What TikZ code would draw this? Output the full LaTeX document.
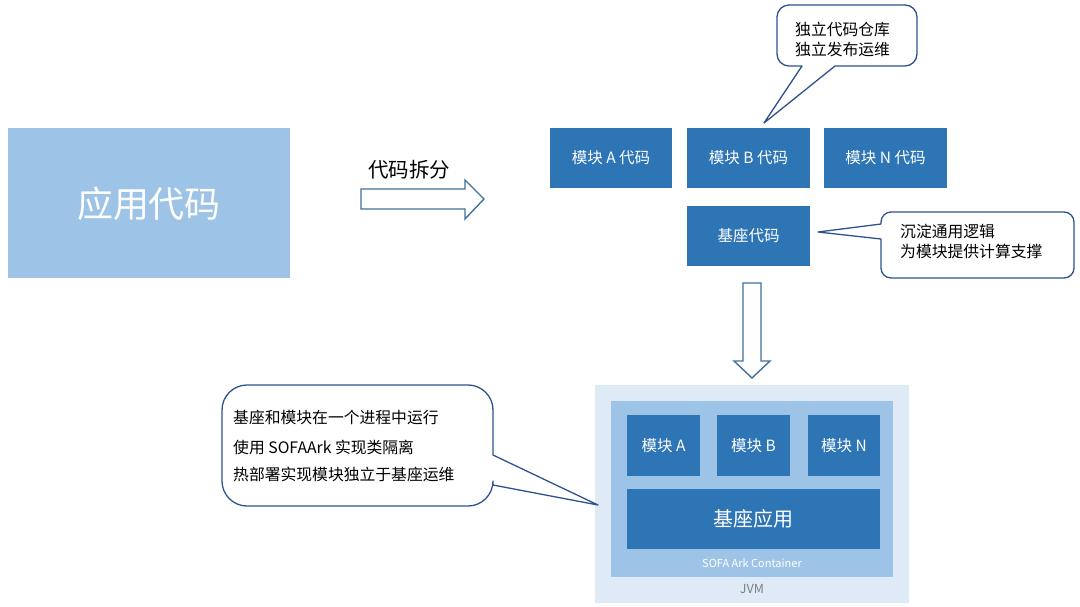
\documentclass[tikz,border=0pt]{standalone}
\usepackage{fontspec}
\setmainfont{Noto Sans CJK SC}
\definecolor{modblue}{HTML}{2E75B6}
\definecolor{lightblue}{HTML}{9DC3E6}
\definecolor{paleblue}{HTML}{DEEBF7}
\definecolor{arrowline}{HTML}{41719C}
\definecolor{calloutline}{HTML}{2F528F}
\definecolor{jvmgray}{HTML}{7F7F7F}
\tikzset{
  modbox/.style={fill=modblue, draw=none, text=white, inner sep=0pt},
  calloutshape/.style={fill=white, draw=calloutline, line width=1.3pt, line join=round},
  blockarrow/.style={fill=white, draw=arrowline, line width=1.4pt, line join=miter},
  callouttext/.style={anchor=west, inner sep=0pt, font=\fontsize{15.8}{19}\selectfont, text=black},
}
\begin{document}
\begin{tikzpicture}[x=1pt,y=1pt]
\path[use as bounding box] (0,0) rectangle (1080,-606);
\fill[white] (0,0) rectangle (1080,-606);

% big app box
\fill[lightblue] (8,-128) rectangle (290,-278);
\node[text=white, font=\fontsize{36}{40}\selectfont] (app) at (149,-204) {应用代码};

% split label and arrow
\node[font=\fontsize{20.5}{24}\selectfont] (splitlabel) at (409,-170) {代码拆分};
\draw[blockarrow] (361,-189) -- (465,-189) -- (465,-180) -- (484,-199) -- (465,-219) -- (465,-209) -- (361,-209) -- cycle;

% module code boxes
\node[modbox, minimum width=122pt, minimum height=60pt, font=\fontsize{15.5}{18}\selectfont] (codeA) at (611,-158) {模块 A 代码};
\node[modbox, minimum width=123pt, minimum height=60pt, font=\fontsize{15.5}{18}\selectfont] (codeB) at (748.5,-158) {模块 B 代码};
\node[modbox, minimum width=123pt, minimum height=60pt, font=\fontsize{15.5}{18}\selectfont] (codeN) at (885.5,-158) {模块 N 代码};
\node[modbox, minimum width=123pt, minimum height=60pt, font=\fontsize{15.5}{18}\selectfont] (basecode) at (748.5,-236) {基座代码};

% callout 1
\draw[calloutshape] (789,-5) -- (905,-5) arc[start angle=90,end angle=0,radius=12]
  -- (917,-54) arc[start angle=0,end angle=-90,radius=12]
  -- (835,-66) -- (764,-123) -- (802,-66) -- (789,-66)
  arc[start angle=-90,end angle=-180,radius=12]
  -- (777,-17) arc[start angle=180,end angle=90,radius=12] -- cycle;
\node[callouttext] (c1a) at (795,-29) {独立代码仓库};
\node[callouttext] (c1b) at (795,-49) {独立发布运维};

% callout 2
\draw[calloutshape] (891,-212) -- (1064,-212) arc[start angle=90,end angle=0,radius=10]
  -- (1074,-268) arc[start angle=0,end angle=-90,radius=10]
  -- (891,-278) arc[start angle=-90,end angle=-180,radius=10]
  -- (881,-239) -- (818,-232) -- (881,-224) -- (881,-222)
  arc[start angle=180,end angle=90,radius=10] -- cycle;
\node[callouttext] (c2a) at (900,-231) {沉淀通用逻辑};
\node[callouttext] (c2b) at (900,-251) {为模块提供计算支撑};

% down arrow
\draw[blockarrow] (743,-283) -- (761,-283) -- (761,-361) -- (770,-361) -- (752,-378) -- (734,-361) -- (743,-361) -- cycle;

% JVM and container
\fill[paleblue] (595,-385) rectangle (909,-603);
\fill[lightblue] (611,-401) rectangle (893,-577);
\node[modbox, minimum width=73pt, minimum height=61pt, font=\fontsize{15.5}{18}\selectfont] (modA) at (663.5,-445.5) {模块 A};
\node[modbox, minimum width=73pt, minimum height=61pt, font=\fontsize{15.5}{18}\selectfont] (modB) at (753.5,-445.5) {模块 B};
\node[modbox, minimum width=72pt, minimum height=61pt, font=\fontsize{15.5}{18}\selectfont] (modN) at (844,-445.5) {模块 N};
\node[modbox, minimum width=253pt, minimum height=60pt, font=\fontsize{20}{24}\selectfont] (baseapp) at (753.5,-519) {基座应用};
\node[text=white, font=\fontsize{11}{13}\selectfont] (ark) at (752,-563) {SOFA Ark Container};
\node[text=jvmgray, font=\fontsize{12.5}{14}\selectfont] (jvm) at (752,-589) {JVM};

% callout 3
\draw[calloutshape] (247,-385) -- (468,-385) arc[start angle=90,end angle=0,radius=25]
  -- (493,-455) -- (598,-505) -- (493,-485) -- (493,-481)
  arc[start angle=0,end angle=-90,radius=25]
  -- (247,-506) arc[start angle=-90,end angle=-180,radius=25]
  -- (222,-410) arc[start angle=180,end angle=90,radius=25] -- cycle;
\node[callouttext] (c3a) at (233,-417) {基座和模块在一个进程中运行};
\node[callouttext] (c3b) at (233,-447) {使用 SOFAArk 实现类隔离};
\node[callouttext] (c3c) at (233,-474) {热部署实现模块独立于基座运维};
\end{tikzpicture}
\end{document}
